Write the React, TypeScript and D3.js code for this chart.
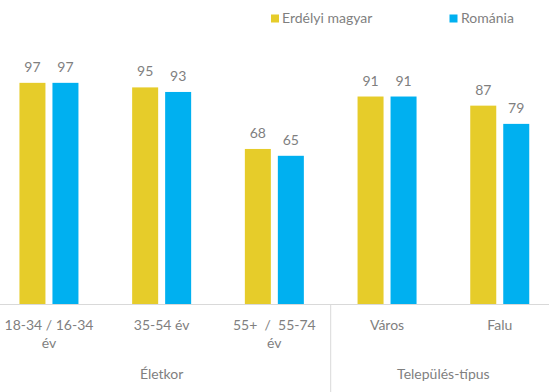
import React from "react";
import * as d3 from "d3";

const categories = ["18-34 / 16-34 év", "35-54 év", "55+  /  55-74 év", "Város", "Falu"];
const categoryLines = [["18-34 / 16-34", "év"], ["35-54 év"], ["55+  /  55-74", "év"], ["Város"], ["Falu"]];
const series = ["Erdélyi magyar", "Románia"];
const erdelyi = [97, 95, 68, 91, 87];
const romania = [97, 93, 65, 91, 79];
const groups = [
  { label: "Életkor", from: 0, to: 2 },
  { label: "Település-típus", from: 3, to: 4 },
];
const colors = ["#E6CC2A", "#00B0F0"];

const W = 549;
const H = 392;
const FONT = "Lato, 'Open Sans', sans-serif";
const TXT = "#7F7F7F";

export default function App() {
  const x = d3.scaleBand<string>().domain(categories).range([-7.4, 556.1]).padding(0);
  const y = d3.scaleLinear().domain([0, 100]).range([304, 76]);
  const sub = d3.scaleBand<string>().domain(series).range([-29.5, 29.5]).paddingInner(0.212);
  const values = [erdelyi, romania];
  const base = y(0);
  const center = (i: number) => (x(categories[i]) as number) + x.bandwidth() / 2;

  // boundaries between groups
  const seps = groups.slice(0, -1).map((g) => (x(categories[g.to]) as number) + x.bandwidth());

  return (
    <svg width={W} height={H} style={{ position: "absolute", left: 0, top: 0, background: "#fff" }} fontFamily={FONT}>
      {/* legend */}
      <g>
        <rect x={271} y={14.5} width={8} height={8} fill={colors[0]} />
        <text x={282} y={22.5} fontSize={14} fill={TXT}>{series[0]}</text>
        <rect x={449.5} y={14.5} width={8} height={8} fill={colors[1]} />
        <text x={461} y={22.5} fontSize={14} fill={TXT}>{series[1]}</text>
      </g>
      {/* bars */}
      {categories.map((c, i) => (
        <g key={c}>
          {series.map((s, j) => {
            const v = values[j][i];
            const bx = center(i) + (sub(s) as number);
            return (
              <g key={s}>
                <rect x={bx} y={y(v)} width={sub.bandwidth()} height={base - y(v)} fill={colors[j]} />
                <text x={bx + sub.bandwidth() / 2} y={y(v) - 11} textAnchor="middle" fontSize={14} fill={TXT}>{v}</text>
              </g>
            );
          })}
        </g>
      ))}
      {/* axis */}
      <line x1={0} x2={W} y1={304.5} y2={304.5} stroke="#D9D9D9" strokeWidth={1} />
      {seps.map((sx, k) => (
        <line key={k} x1={sx} x2={sx} y1={304.5} y2={H} stroke="#D9D9D9" strokeWidth={1} />
      ))}
      {/* category labels */}
      {categoryLines.map((lines, i) => (
        <text key={i} x={center(i)} y={329.5} textAnchor="middle" fontSize={14} fill={TXT}>
          {lines.map((l, k) => (
            <tspan key={k} x={center(i)} dy={k === 0 ? 0 : 18} style={{ whiteSpace: "pre" }}>{l}</tspan>
          ))}
        </text>
      ))}
      {/* group labels */}
      {groups.map((g) => {
        const cx = (center(g.from) + center(g.to)) / 2;
        return (
          <text key={g.label} x={cx} y={378.5} textAnchor="middle" fontSize={14} fill={TXT}>{g.label}</text>
        );
      })}
    </svg>
  );
}
